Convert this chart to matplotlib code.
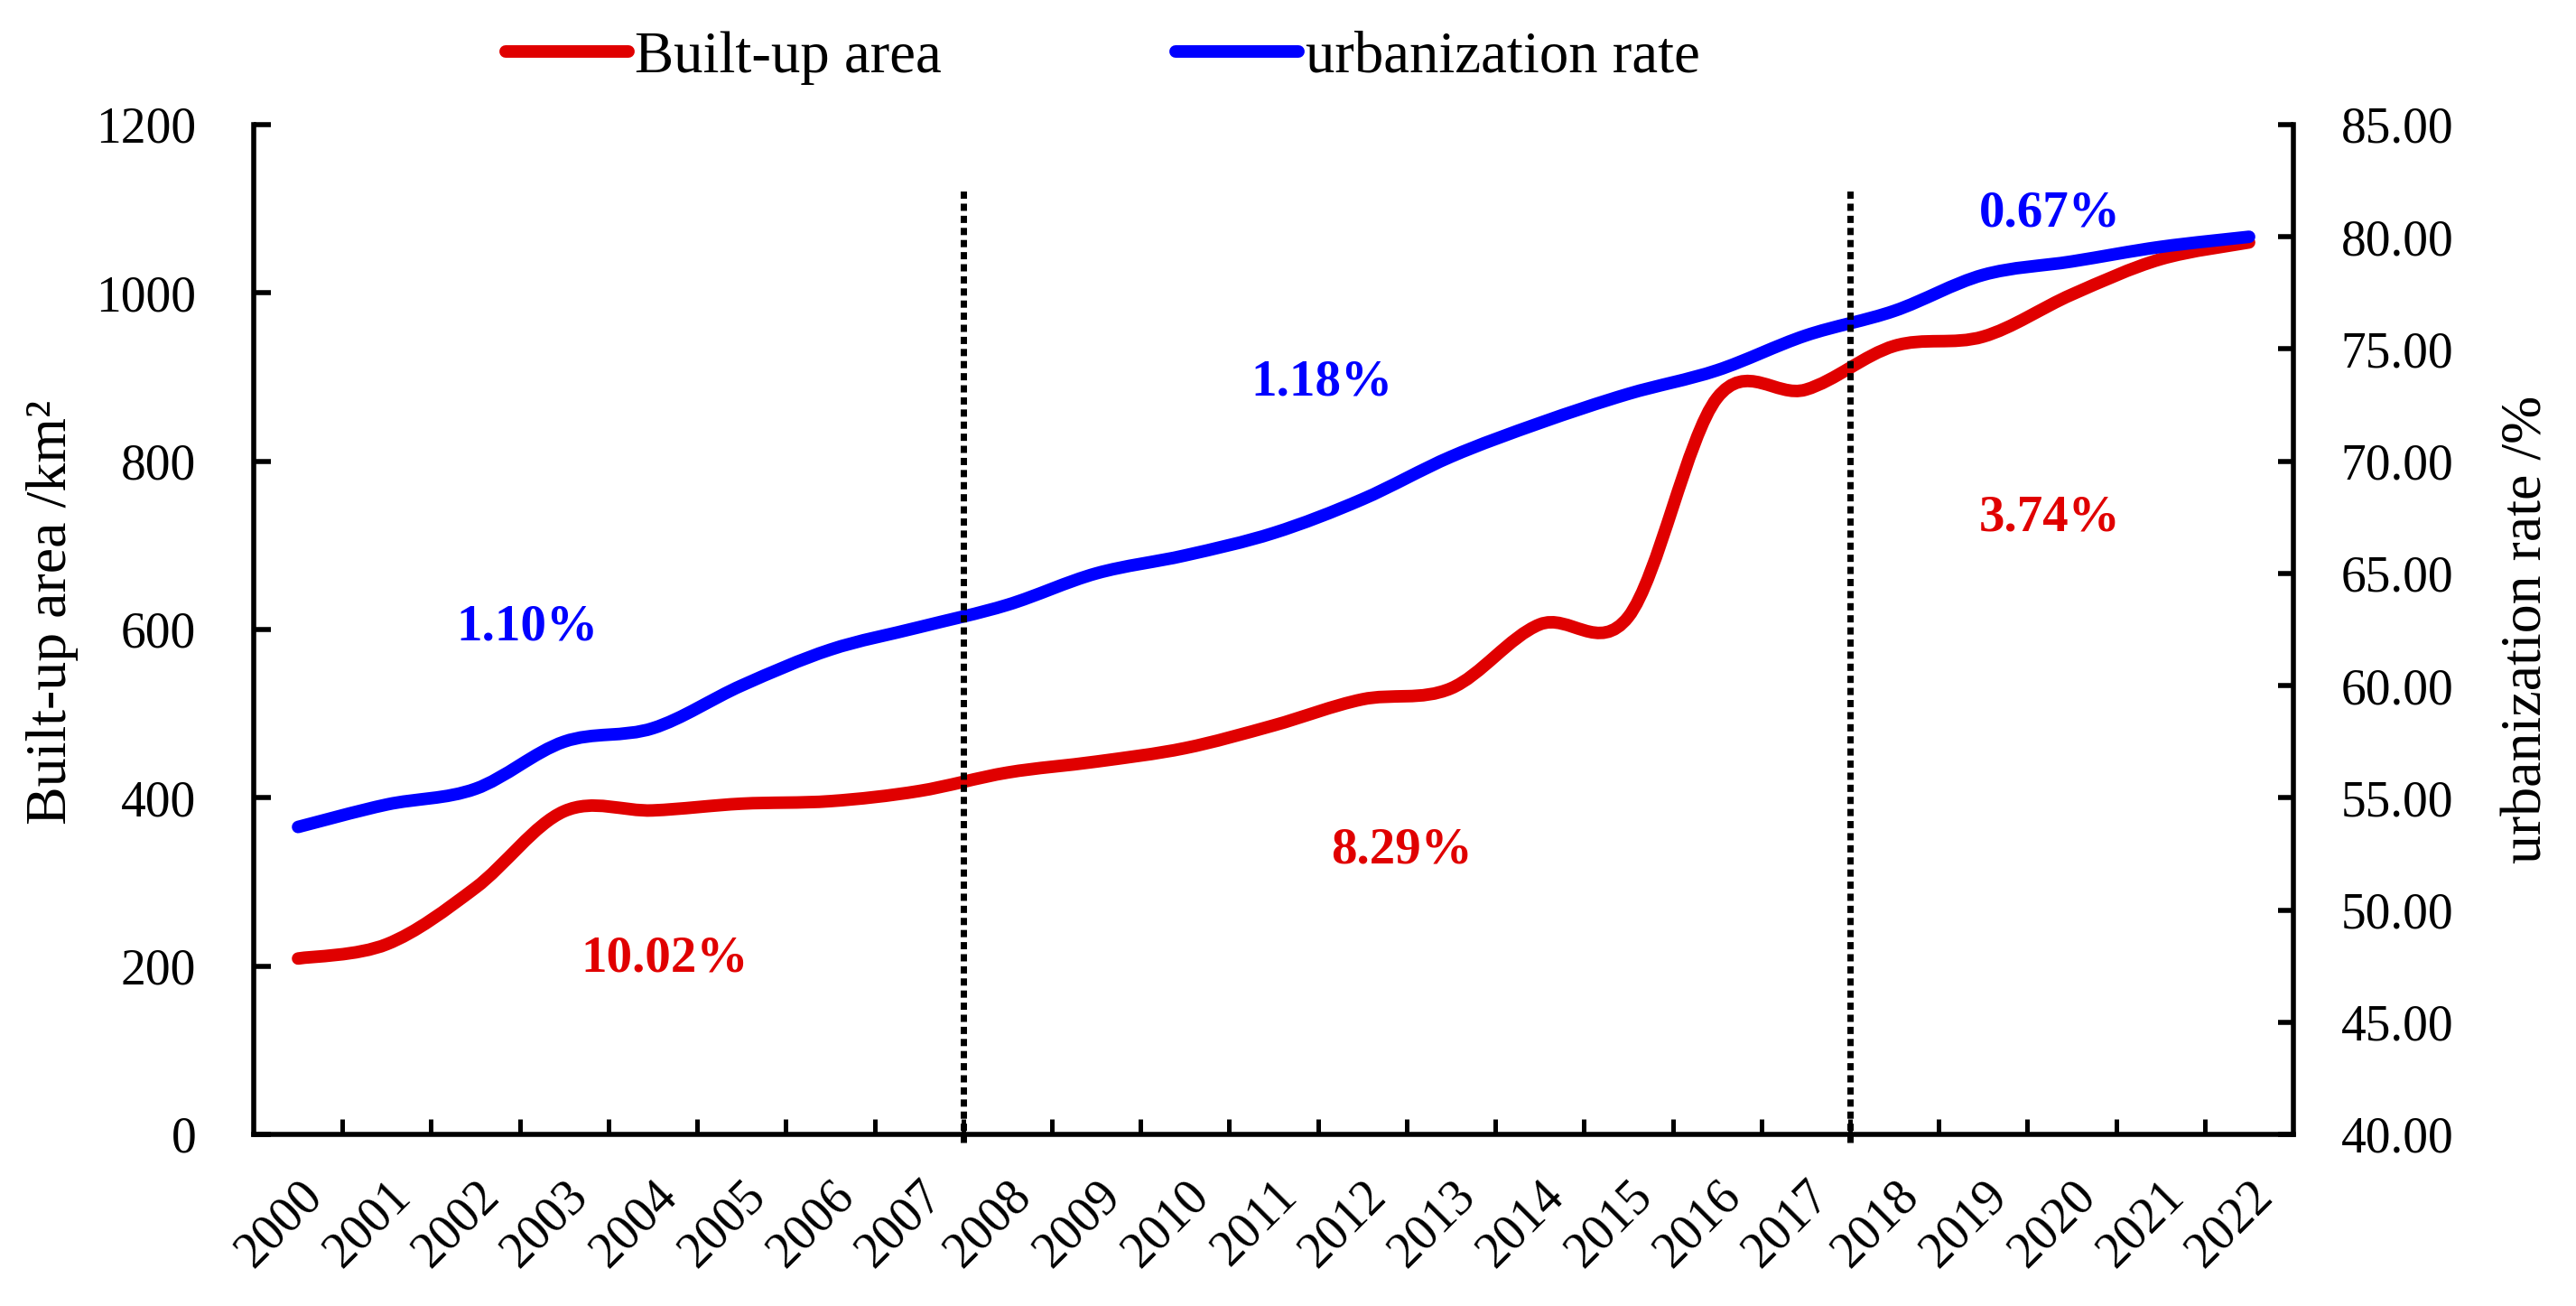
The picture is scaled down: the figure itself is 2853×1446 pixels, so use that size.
import numpy as np
import matplotlib
matplotlib.use("Agg")
import matplotlib.pyplot as plt
from matplotlib.path import Path
from matplotlib.patches import PathPatch
from matplotlib.lines import Line2D
from matplotlib.ticker import FixedLocator, FormatStrFormatter

plt.rcParams["font.family"] = ["Liberation Serif", "DejaVu Serif"]

# --- data ---
years = [str(y) for y in range(2000, 2023)]
built_up_area = [209, 226, 293, 384, 385, 393, 396, 408, 430, 443, 459, 486,
                 517, 530, 606, 615, 875, 885, 937, 948, 998, 1040, 1060]
urbanization_rate = [53.7, 54.7, 55.4, 57.5, 58.1, 60.0, 61.6, 62.6, 63.6, 65.0,
                     65.8, 66.8, 68.3, 70.2, 71.7, 73.0, 74.05, 75.6, 76.7, 78.3,
                     78.9, 79.55, 80.0]

# period growth labels: (text, x in category units, y in built-up units, series)
period_labels = ["1.10%", "10.02%", "1.18%", "8.29%", "0.67%", "3.74%"]
period_x = [2.58, 4.13, 11.54, 12.45, 19.75, 19.75]
period_y = [588, 194, 878, 323, 1079, 717]
period_series = ["rate", "area", "rate", "area", "rate", "area"]

break_years = ["2008", "2018"]

RED = "#e00000"
BLUE = "#0000ff"


def smooth_path(xs, ys):
    """Excel-style smoothed line as cubic Bezier segments through the data points."""
    pts = np.column_stack([xs, ys]).astype(float)
    n = len(pts)
    verts = [pts[0]]
    codes = [Path.MOVETO]
    for i in range(n - 1):
        p0 = pts[i - 1] if i > 0 else pts[i]
        p1 = pts[i]
        p2 = pts[i + 1]
        p3 = pts[i + 2] if i + 2 < n else pts[i + 1]
        verts += [p1 + (p2 - p0) / 6.0, p2 - (p3 - p1) / 6.0, p2]
        codes += [Path.CURVE4] * 3
    return Path(verts, codes)


x = np.arange(len(years))

fig = plt.figure(figsize=(14.265, 7.23), dpi=200)
ax = fig.add_axes([0.0985, 0.1314, 0.7918, 0.7732])
ax2 = ax.twinx()

ax.set_xlim(-0.5, len(years) - 0.5)
ax.set_ylim(0, 1200)
ax2.set_ylim(40, 85)

ax.add_patch(PathPatch(smooth_path(x, built_up_area), facecolor="none",
                       edgecolor=RED, lw=5.0, capstyle="round", joinstyle="round"))
ax2.add_patch(PathPatch(smooth_path(x, urbanization_rate), facecolor="none",
                        edgecolor=BLUE, lw=5.0, capstyle="round", joinstyle="round"))

# period separators (drawn on top axes, in left-axis units)
for yr in break_years:
    xb = years.index(yr) - 0.5
    ax2.plot([xb, xb], [-10, 1124], transform=ax.transData, color="black",
             lw=2.5, linestyle=(0, (1.15, 0.78)), clip_on=False, zorder=5)

for txt, px, py, s in zip(period_labels, period_x, period_y, period_series):
    ax2.text(px, py, txt, transform=ax.transData, ha="center", va="baseline",
             fontsize=20.5, fontweight="bold", color=BLUE if s == "rate" else RED)

# spines
for a in (ax, ax2):
    a.spines["top"].set_visible(False)
ax.spines["right"].set_visible(False)
ax2.spines["left"].set_visible(False)
ax2.spines["bottom"].set_visible(False)
for sp in ("left", "bottom"):
    ax.spines[sp].set_linewidth(2.0)
ax2.spines["right"].set_linewidth(2.0)

# x axis: ticks between categories, labels at category centres
ax.xaxis.set_major_locator(FixedLocator(np.arange(0.5, len(years) - 1, 1.0)))
ax.xaxis.set_major_formatter(plt.NullFormatter())
ax.set_xticks(x, years, minor=True)
ax.tick_params(axis="x", which="major", direction="in", length=6.2, width=1.8)
ax.tick_params(axis="x", which="minor", length=0, pad=15, labelsize=20)
for lab in ax.get_xticklabels(minor=True):
    lab.set_rotation(45)
    lab.set_ha("right")
    lab.set_rotation_mode("anchor")

ax.set_yticks(np.arange(0, 1201, 200))
ax.tick_params(axis="y", direction="in", length=6.8, width=2.0, labelsize=20, pad=23)
ax2.set_yticks(np.arange(40, 86, 5))
ax2.yaxis.set_major_formatter(FormatStrFormatter("%.2f"))
ax2.tick_params(axis="y", direction="in", length=6.2, width=2.0, labelsize=20, pad=19)

fig.text(0.0205, 0.5315, "Built-up area /km²", rotation=90, ha="center",
         va="center", fontsize=23)
fig.text(0.9812, 0.5183, "urbanization rate /%", rotation=90, ha="center",
         va="center", fontsize=23)

handles = [
    Line2D([], [], color=RED, lw=5.0, solid_capstyle="round"),
    Line2D([], [], color=BLUE, lw=5.0, solid_capstyle="round"),
]
fig.legend(handles, ["Built-up area", "urbanization rate"], loc="center",
           bbox_to_anchor=(0.428, 0.9557), ncol=2, frameon=False, fontsize=23.3,
           handlelength=2.1, handletextpad=0.12, columnspacing=4.0)

fig.savefig("out.png", dpi=200, facecolor="white")
plt.close(fig)
